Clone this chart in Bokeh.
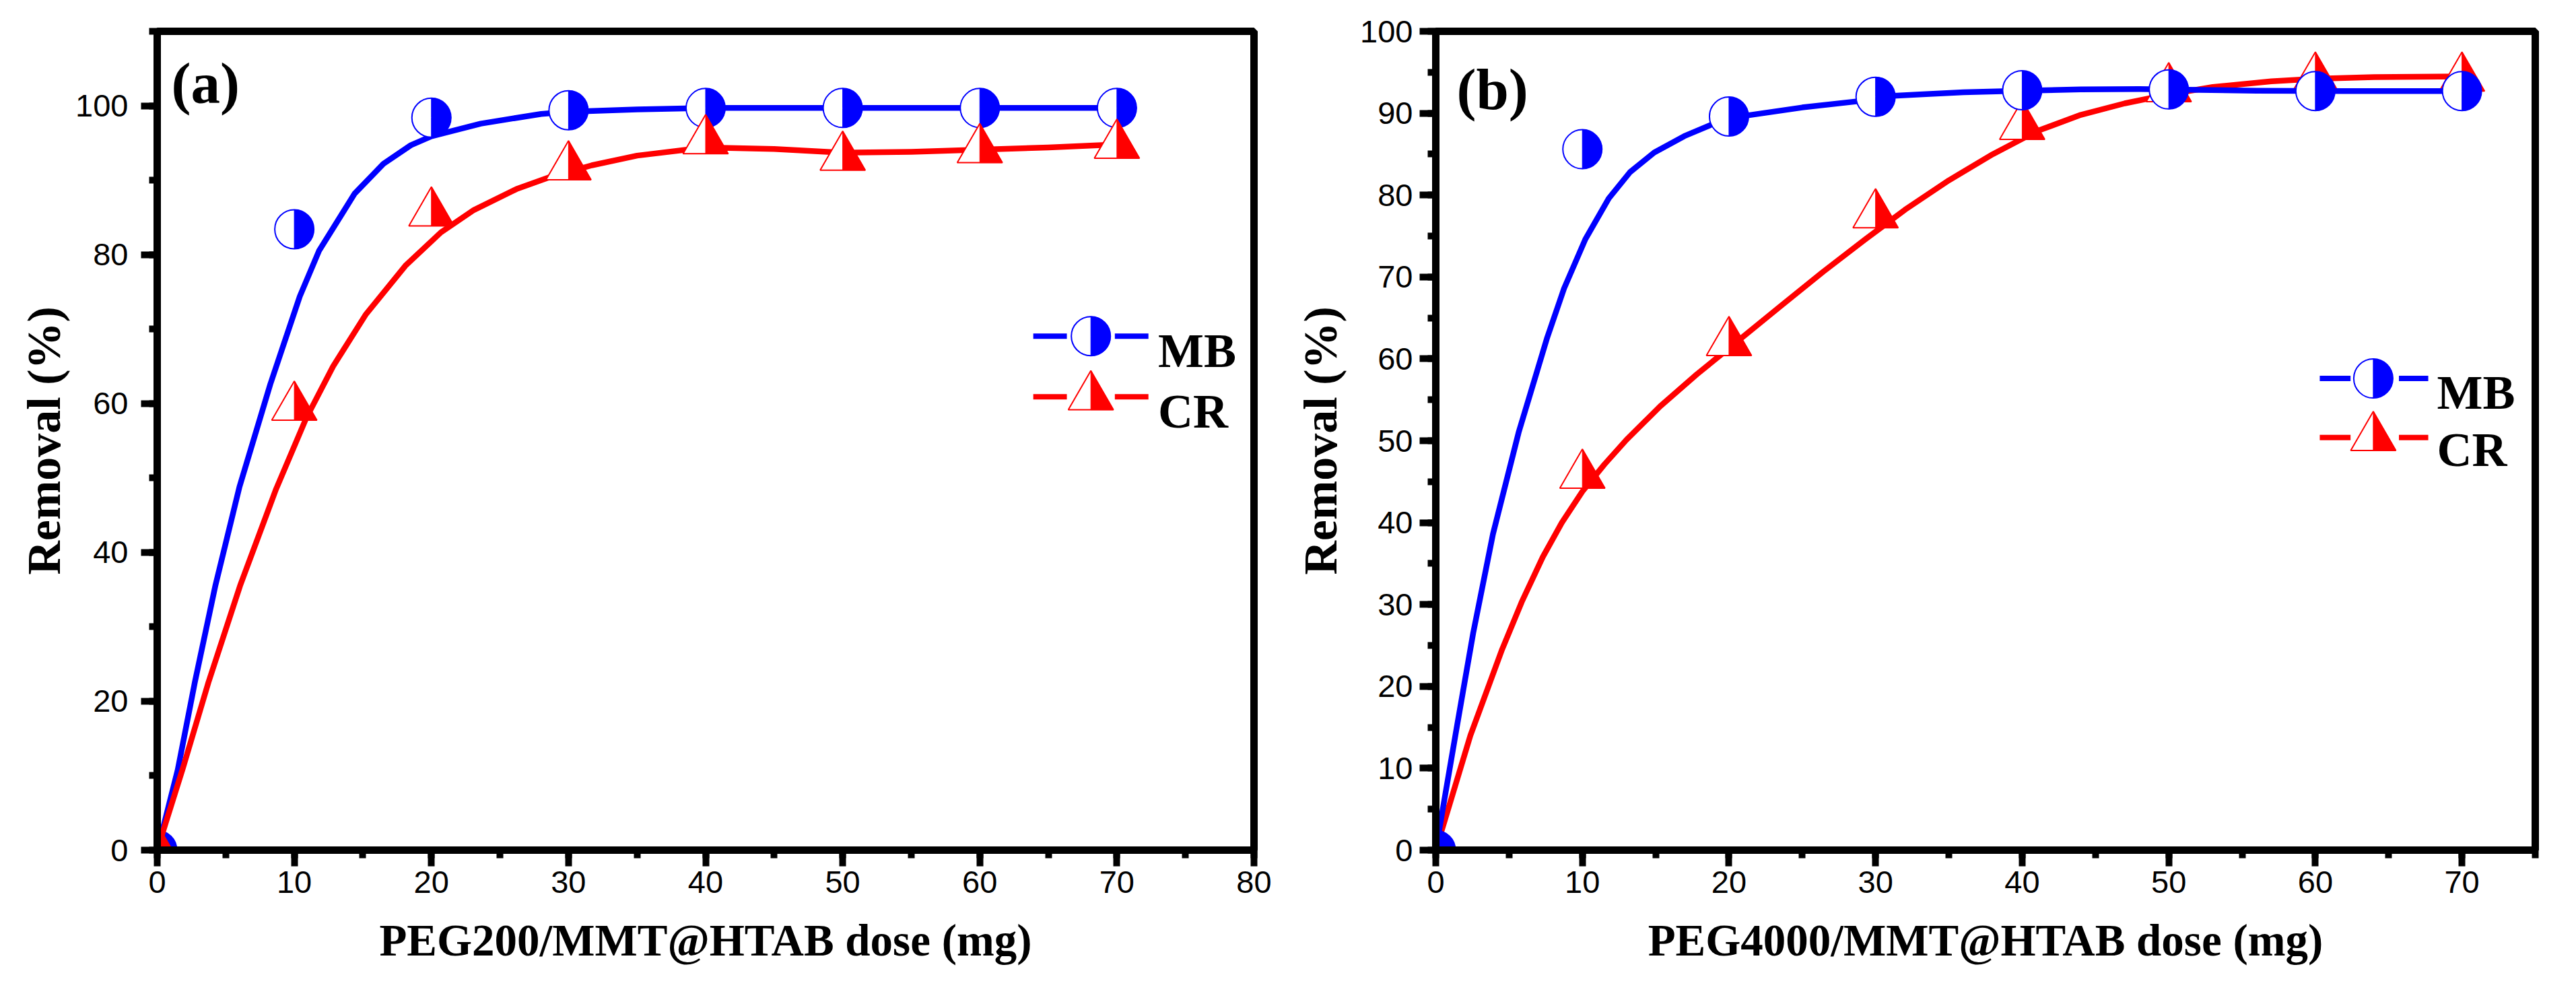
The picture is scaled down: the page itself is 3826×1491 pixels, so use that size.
import math
from bokeh.plotting import figure
from bokeh.layouts import row
from bokeh.models import Range1d, SingleIntervalTicker, Label
from bokeh.embed import file_html
from bokeh.resources import INLINE

# ---------------- data ----------------
dose = [0, 10, 20, 30, 40, 50, 60, 70]

# panel (a): PEG200/MMT@HTAB
mb_a = [0, 83.4, 98.4, 99.4, 99.7, 99.7, 99.7, 99.7]
cr_a = [0, 59.5, 85.6, 91.8, 95.3, 93.1, 94.1, 94.7]
mb_a_fit_x = [0, 0.5, 1.5, 2.75, 4.25, 6, 8.25, 10.4, 11.8, 14.4, 16.5, 18.5, 20, 23.6, 28, 30, 35, 40, 50, 60, 70]
mb_a_fit_y = [0, 3.5, 10.8, 22.6, 35.6, 48.8, 62.6, 74.4, 80.5, 88.2, 92.2, 94.7, 95.9, 97.6, 98.9, 99.2, 99.5, 99.7, 99.7, 99.7, 99.7]
cr_a_fit_x = [0, 1.87, 3.73, 6.04, 8.67, 10.86, 12.83, 15.23, 18.1, 20.7, 23.1, 26.2, 28.6, 31.7, 35, 40, 45, 50, 55, 60, 65, 70]
cr_a_fit_y = [0, 11, 22.5, 35.5, 48.5, 58, 65, 72, 78.5, 83, 86, 88.8, 90.4, 92.0, 93.3, 94.4, 94.2, 93.7, 93.8, 94.1, 94.4, 94.8]

# panel (b): PEG4000/MMT@HTAB
mb_b = [0, 85.6, 89.6, 92.0, 92.8, 92.9, 92.7, 92.7]
cr_b = [0, 45.8, 62.0, 77.6, 88.4, 93.0, 94.3, 94.3]
mb_b_fit_x = [0, 0.6, 1.45, 2.55, 3.9, 5.65, 7.6, 8.75, 10.2, 11.8, 13.25, 14.9, 16.95, 18.8, 20, 25, 29, 30, 33, 36, 40, 44, 48, 52, 56, 62, 70]
mb_b_fit_y = [0, 6.3, 15.2, 26.5, 38.6, 51.0, 62.6, 68.6, 74.6, 79.6, 82.8, 85.2, 87.2, 88.6, 89.4, 90.7, 91.5, 92.0, 92.3, 92.55, 92.75, 92.9, 92.95, 92.85, 92.75, 92.7, 92.7]
cr_b_fit_x = [0, 2.36, 4.52, 5.86, 7.3, 8.6, 10, 11.5, 13, 15.3, 17.8, 20, 23.5, 26.4, 29.3, 32, 35, 38, 41, 44, 47, 50, 53, 57, 60, 64, 70]
cr_b_fit_y = [0, 14.0, 24.5, 30.3, 35.8, 40.0, 43.8, 47.1, 50.1, 54.2, 58.1, 61.3, 66.4, 70.6, 74.6, 78.2, 81.8, 85.0, 87.8, 89.8, 91.2, 92.3, 93.2, 93.9, 94.2, 94.4, 94.5]

series_names = ["MB", "CR"]
x_titles = ["PEG200/MMT@HTAB dose (mg)", "PEG4000/MMT@HTAB dose (mg)"]
y_title = "Removal (%)"
panel_tags = ["(a)", "(b)"]

BLUE = "#0000FF"
RED = "#FF0000"
SERIF = "Liberation Serif"
SANS = "Liberation Sans"

CIRCLE_SIZE = 58
TRI_SIZE = 67
FRAME_H = 1216


def make_fig(xmax, ymax, fw, x_int, y_int, lab_standoff, title_standoff, x_title):
    p = figure(frame_width=fw, frame_height=FRAME_H,
               x_range=Range1d(0, xmax), y_range=Range1d(0, ymax),
               output_backend="svg", toolbar_location=None,
               min_border_left=233, min_border_right=37,
               min_border_top=46, min_border_bottom=200)
    p.xgrid.visible = False
    p.ygrid.visible = False
    p.background_fill_color = "white"
    p.border_fill_color = "white"
    p.outline_line_color = "black"
    p.outline_line_width = 11
    p.outline_line_alpha = 1.0
    p.xaxis.ticker = SingleIntervalTicker(interval=x_int, num_minor_ticks=2)
    p.yaxis.ticker = SingleIntervalTicker(interval=y_int, num_minor_ticks=2)
    for ax in (p.xaxis[0], p.yaxis[0]):
        ax.axis_line_width = 11
        ax.axis_line_color = "black"
        ax.major_tick_line_width = 10
        ax.minor_tick_line_width = 10
        ax.major_tick_line_color = "black"
        ax.minor_tick_line_color = "black"
        ax.major_tick_in = 0
        ax.major_tick_out = 24
        ax.minor_tick_in = 0
        ax.minor_tick_out = 12
        ax.major_label_text_font = SANS
        ax.major_label_text_font_size = "47px"
        ax.major_label_text_color = "black"
        ax.axis_label_text_font = SERIF
        ax.axis_label_text_font_style = "bold"
        ax.axis_label_text_color = "black"
    p.xaxis.axis_label_text_font_size = "67px"
    p.yaxis.axis_label_text_font_size = "70px"
    p.xaxis.major_label_standoff = 7
    p.xaxis.axis_label_standoff = 30
    p.yaxis.major_label_standoff = lab_standoff
    p.yaxis.axis_label_standoff = title_standoff
    p.xaxis.axis_label = x_title
    p.yaxis.axis_label = y_title
    return p


def half_circles(p, xs, ys, color):
    p.scatter(xs, ys, marker="circle", size=CIRCLE_SIZE, fill_color="white",
              line_color=color, line_width=2)
    p.wedge(xs, ys, radius=CIRCLE_SIZE / 2, radius_units="screen",
            start_angle=-math.pi / 2, end_angle=math.pi / 2,
            fill_color=color, line_color=color, line_width=1)


def half_triangles(p, xs, ys, color, px, py):
    r = TRI_SIZE / 2
    h = r * math.sqrt(3)
    p.scatter(xs, ys, marker="triangle", size=TRI_SIZE, fill_color="white",
              line_color=color, line_width=2)
    pxs = [[x, x, x + r / px] for x in xs]
    pys = [[y + (2 * h / 3) / py, y - (h / 3) / py, y - (h / 3) / py] for y in ys]
    p.patches(pxs, pys, fill_color=color, line_color=color, line_width=1)


def legend(p, px, py, x0, gl, xm, gr, x1, xt, rows, baselines):
    colors = [BLUE, RED]
    for k in range(2):
        yr = rows[k]
        p.segment([x0, gr], [yr, yr], [gl, x1], [yr, yr], line_color=colors[k], line_width=8)
    half_circles(p, [xm], [rows[0]], BLUE)
    half_triangles(p, [xm], [rows[1]], RED, px, py)
    for k in range(2):
        p.add_layout(Label(x=xt, y=baselines[k], text=series_names[k], text_font=SERIF,
                           text_font_style="bold", text_font_size="72px", text_color="black",
                           text_baseline="alphabetic", text_align="left"))


# ---------------- panel (a) ----------------
FW_A, XMAX_A, YMAX_A = 1629, 80, 110
pa = make_fig(XMAX_A, YMAX_A, FW_A, 10, 20, 19, 5, x_titles[0])
px_a = FW_A / XMAX_A
py_a = FRAME_H / YMAX_A
pa.line(mb_a_fit_x, mb_a_fit_y, line_color=BLUE, line_width=8.5, line_join="round")
half_circles(pa, dose, mb_a, BLUE)
pa.line(cr_a_fit_x, cr_a_fit_y, line_color=RED, line_width=8.5, line_join="round")
half_triangles(pa, dose, cr_a, RED, px_a, py_a)
legend(pa, px_a, py_a, 63.9, 66.35, 68.1, 69.85, 72.3, 73.0, [69.05, 60.9], [67.06, 58.9])
pa.add_layout(Label(x=1.03, y=103.0, text=panel_tags[0], text_font=SERIF, text_font_style="bold",
                    text_font_size="87px", text_color="black", text_baseline="alphabetic"))

# ---------------- panel (b) ----------------
FW_B, XMAX_B, YMAX_B = 1633, 75, 100
pb = make_fig(XMAX_B, YMAX_B, FW_B, 10, 10, 10, 17, x_titles[1])
px_b = FW_B / XMAX_B
py_b = FRAME_H / YMAX_B
pb.line(cr_b_fit_x, cr_b_fit_y, line_color=RED, line_width=8.5, line_join="round")
half_triangles(pb, dose, cr_b, RED, px_b, py_b)
pb.line(mb_b_fit_x, mb_b_fit_y, line_color=BLUE, line_width=8.5, line_join="round")
half_circles(pb, dose, mb_b, BLUE)
legend(pb, px_b, py_b, 60.3, 62.4, 63.95, 65.7, 67.7, 68.3, [57.6, 50.4], [55.9, 48.85])
pb.add_layout(Label(x=1.42, y=92.9, text=panel_tags[1], text_font=SERIF, text_font_style="bold",
                    text_font_size="87px", text_color="black", text_baseline="alphabetic"))

layout = row(pa, pb, spacing=0)
open("out.html", "w").write(file_html(layout, INLINE))
